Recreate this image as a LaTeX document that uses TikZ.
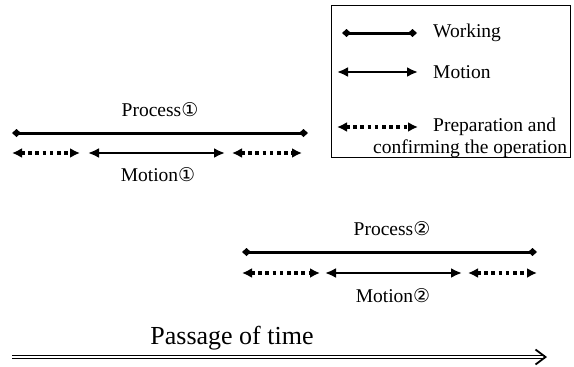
\documentclass[tikz,border=0pt]{standalone}
\usepackage{fontspec}
\setmainfont{Liberation Serif}
\newfontfamily\circfont{DejaVu Sans}
\usetikzlibrary{arrows.meta}
\newcommand{\circone}{{\circfont\fontsize{19}{19}\selectfont ①}}
\newcommand{\circtwo}{{\circfont\fontsize{19}{19}\selectfont ②}}
\tikzset{
  lbl/.style={font=\fontsize{19.5}{22}\selectfont, inner sep=0pt},
  biglbl/.style={font=\fontsize{26}{30}\selectfont, inner sep=0pt},
  workline/.style={line width=3pt, {Turned Square[width=8pt,length=9pt]}-{Turned Square[width=8pt,length=9pt]}},
  motionline/.style={line width=2.2pt, {Latex[width=10pt,length=11pt]}-{Latex[width=10pt,length=11pt]}},
  prepline/.style={line width=3.6pt, dash pattern=on 3.6pt off 3.6pt, {Latex[width=10pt,length=10pt]}-{Latex[width=10pt,length=10pt]}},
  timeline/.style={double, double distance=2.4pt, line width=1pt, -{Straight Barb[length=10pt,width=15pt,line width=1.8pt]}},
}
\begin{document}
\begin{tikzpicture}[x=1pt,y=-1pt]
\useasboundingbox (0,0) rectangle (574,367);

% legend box
\draw[line width=1pt] (331,5) rectangle (570,157);
\coordinate (lw1) at (342,33);  \coordinate (lw2) at (417,33);
\coordinate (lm1) at (337,72);  \coordinate (lm2) at (418,72);
\coordinate (lp1) at (337,127); \coordinate (lp2) at (418,127);
\draw[workline]   (lw1) -- (lw2);
\draw[motionline] (lm1) -- (lm2);
\draw[prepline]   (lp1) -- (lp2);
\node[lbl, anchor=west] (tw) at (433,33) {Working};
\node[lbl, anchor=west] (tm) at (433,72) {Motion};
\node[lbl, anchor=west] (tp) at (433,127) {Preparation and};
\node[lbl, anchor=west] (tc) at (373,149) {confirming the operation};

% process 1
\node[lbl] (p1) at (160,110) {Process\circone};
\coordinate (w1a) at (12,133);  \coordinate (w1b) at (308,133);
\draw[workline] (w1a) -- (w1b);
\coordinate (a1) at (12,153);  \coordinate (b1) at (80,153);
\coordinate (c1) at (88,153);  \coordinate (d1) at (225,153);
\coordinate (e1) at (232,153); \coordinate (f1) at (302,153);
\draw[prepline]   (a1) -- (b1);
\draw[motionline] (c1) -- (d1);
\draw[prepline]   (e1) -- (f1);
\node[lbl] (m1) at (158,175) {Motion\circone};

% process 2
\node[lbl] (p2) at (392,229) {Process\circtwo};
\coordinate (w2a) at (242,252); \coordinate (w2b) at (537,252);
\draw[workline] (w2a) -- (w2b);
\coordinate (a2) at (242,273); \coordinate (b2) at (320,273);
\coordinate (c2) at (325,273); \coordinate (d2) at (462,273);
\coordinate (e2) at (468,273); \coordinate (f2) at (537,273);
\draw[prepline]   (a2) -- (b2);
\draw[motionline] (c2) -- (d2);
\draw[prepline]   (e2) -- (f2);
\node[lbl] (m2) at (393,296) {Motion\circtwo};

% passage of time
\node[biglbl] (pt) at (232,338) {Passage of time};
\coordinate (t1) at (12,357); \coordinate (t2) at (547,357);
\draw[timeline] (t1) -- (t2);
\end{tikzpicture}
\end{document}
